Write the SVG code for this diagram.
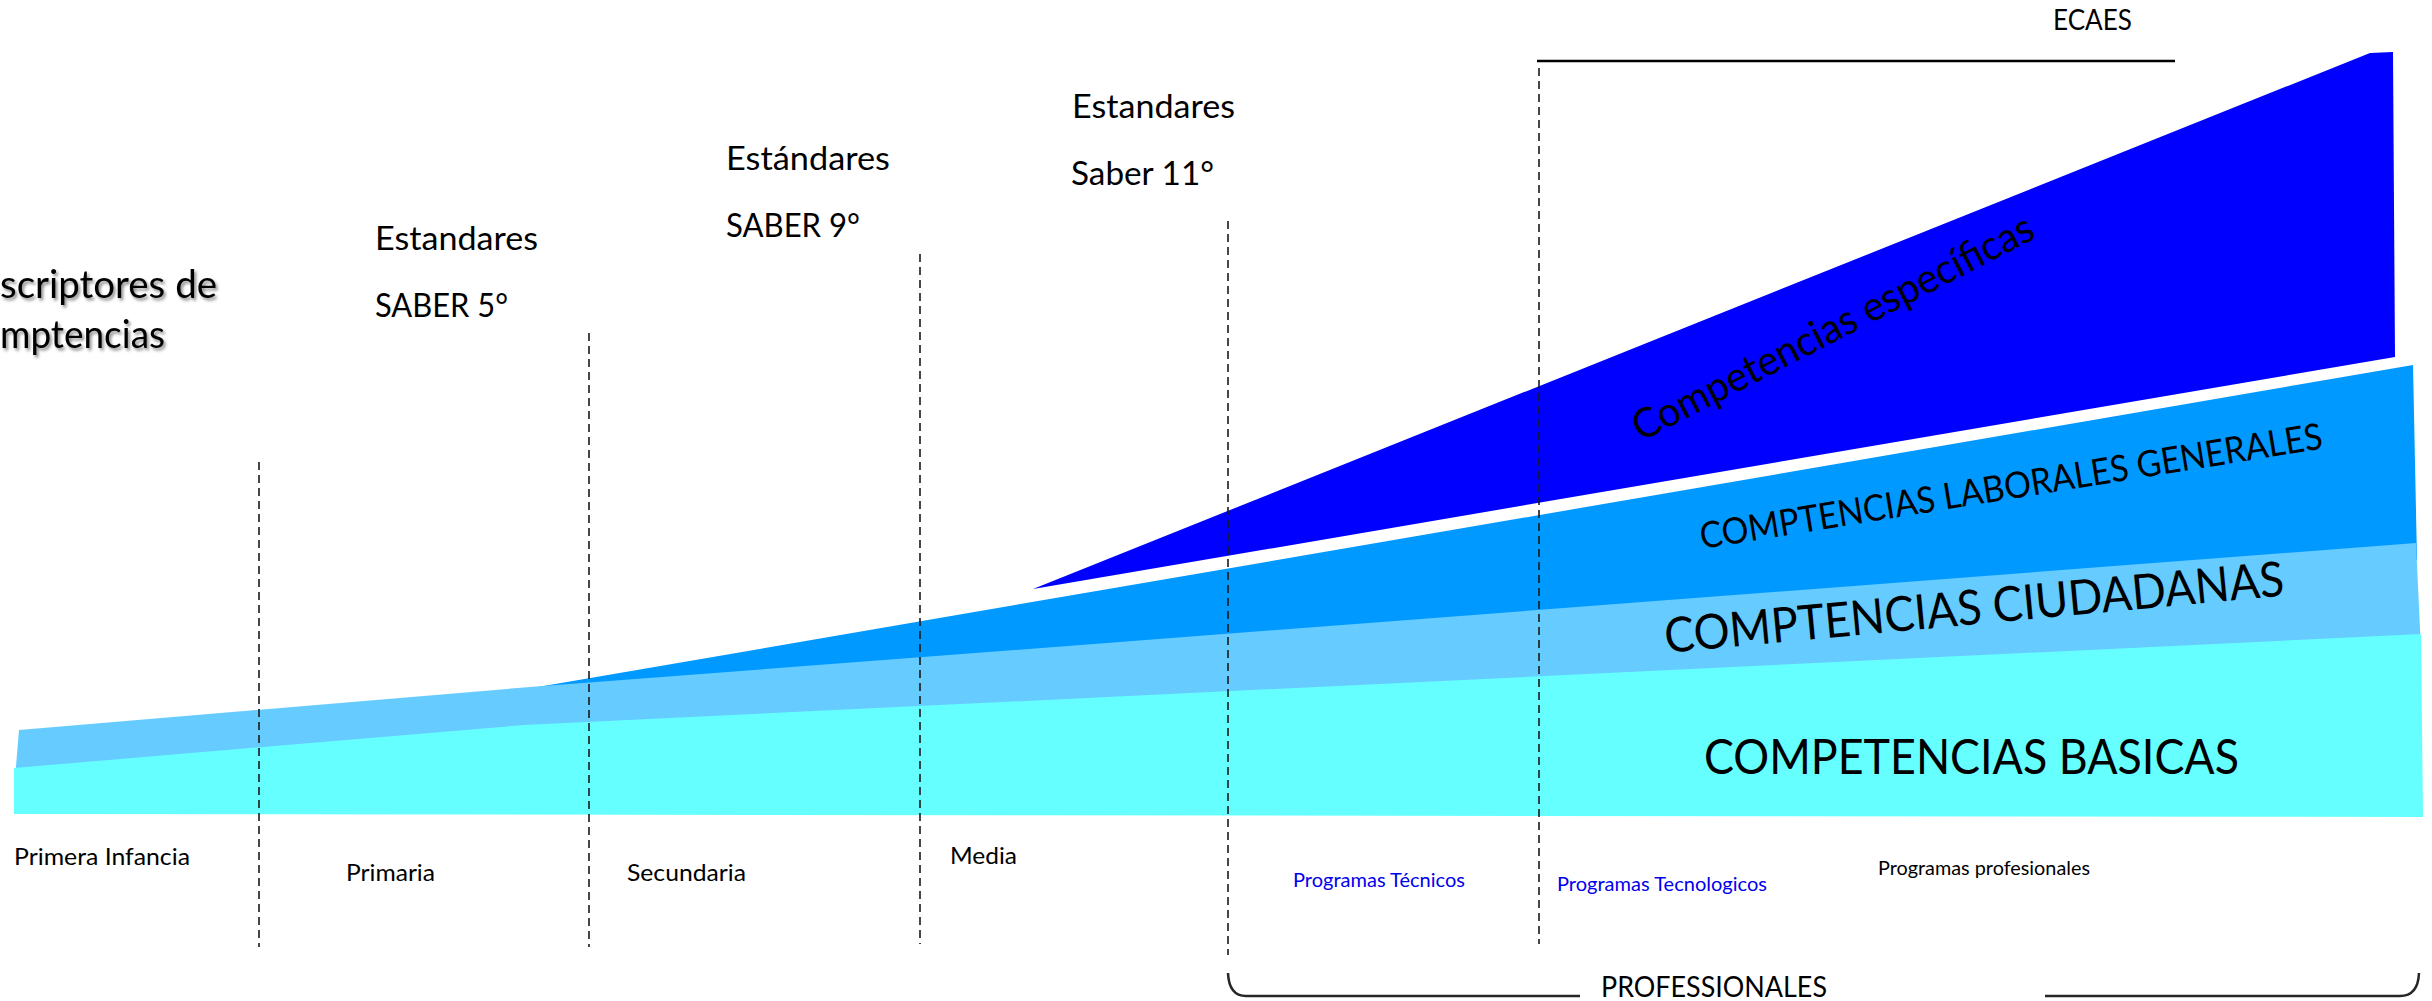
<svg xmlns="http://www.w3.org/2000/svg" width="2432" height="1001" viewBox="0 0 2432 1001">
<defs>
<filter id="shadow" x="-10%" y="-30%" width="130%" height="170%">
<feDropShadow dx="2" dy="2.5" stdDeviation="1.5" flood-color="#000" flood-opacity="0.45"/>
</filter>
<style>
text{font-family:Lato,"Open Sans","Liberation Sans",sans-serif;fill:#000}
.std{font-size:33px}
.lvl{font-size:23.4px}
.prog{font-size:19px}
.blue{fill:#0000EE}
.dash{stroke:#1a1a1a;stroke-width:1.6;stroke-dasharray:8 5;fill:none}
.brk{stroke:#262626;stroke-width:2.5;fill:none}
</style>
</defs>
<rect width="2432" height="1001" fill="#fff"/>
<g id="bands">
<polygon id="especificas" fill="#0000FF" points="1033,589 2370,53 2393,52 2395,357"/>
<polygon id="laborales" fill="#0099FF" points="526,689 2413,365 2417,560 526,700"/>
<polygon id="ciudadanas" fill="#66CCFF" points="19,730 530,687 2416,543 2421,650 14,790"/>
<polygon id="basicas" fill="#66FFFF" points="14,768 524,725 2421,634 2423,817 14,814"/>
</g>
<g id="connectors">
<line class="dash" x1="259" y1="462" x2="259" y2="947"/>
<line class="dash" x1="589" y1="333" x2="589" y2="947"/>
<line class="dash" x1="920" y1="254" x2="920" y2="944"/>
<line class="dash" x1="1228" y1="221" x2="1228" y2="955"/>
<line class="dash" x1="1539" y1="68" x2="1539" y2="944"/>
<line x1="1537" y1="61" x2="2175" y2="61" stroke="#000" stroke-width="2.5"/>
<path class="brk" d="M1228,973 Q1229,996 1246,996 L1580,996"/>
<path class="brk" d="M2045,996 L2400,996 Q2418,996 2419,973"/>
</g>
<g id="label-descriptores" filter="url(#shadow)">
<text x="0" y="298" font-size="39" textLength="217" lengthAdjust="spacingAndGlyphs">scriptores de</text>
<text x="0" y="348" font-size="39" textLength="165" lengthAdjust="spacingAndGlyphs">mptencias</text>
</g>
<g id="label-saber5">
<text class="std" x="375" y="250" textLength="163" lengthAdjust="spacingAndGlyphs">Estandares</text>
<text class="std" x="375" y="317" textLength="133" lengthAdjust="spacingAndGlyphs">SABER 5°</text>
</g>
<g id="label-saber9">
<text class="std" x="726" y="170" textLength="164" lengthAdjust="spacingAndGlyphs">Estándares</text>
<text class="std" x="726" y="237" textLength="134" lengthAdjust="spacingAndGlyphs">SABER 9°</text>
</g>
<g id="label-saber11">
<text class="std" x="1072" y="118" textLength="163" lengthAdjust="spacingAndGlyphs">Estandares</text>
<text class="std" x="1071" y="185" textLength="143" lengthAdjust="spacingAndGlyphs">Saber 11°</text>
</g>
<g id="label-ecaes">
<text x="2053" y="30" font-size="28" textLength="79" lengthAdjust="spacingAndGlyphs">ECAES</text>
</g>
<g id="label-bands">
<text transform="translate(1641,442) rotate(-27.3)" font-size="41" textLength="446" lengthAdjust="spacingAndGlyphs">Competencias específicas</text>
<text transform="translate(1702,549) rotate(-9.2)" font-size="36.5" textLength="630" lengthAdjust="spacingAndGlyphs">COMPTENCIAS LABORALES GENERALES</text>
<text transform="translate(1666,653) rotate(-5.3)" font-size="48.5" textLength="622" lengthAdjust="spacingAndGlyphs">COMPTENCIAS CIUDADANAS</text>
<text x="1704" y="774" font-size="48" textLength="535" lengthAdjust="spacingAndGlyphs">COMPETENCIAS BASICAS</text>
</g>
<g id="label-levels">
<text class="lvl" x="14" y="865" textLength="176" lengthAdjust="spacingAndGlyphs">Primera Infancia</text>
<text class="lvl" x="346" y="881" textLength="89" lengthAdjust="spacingAndGlyphs">Primaria</text>
<text class="lvl" x="627" y="881" textLength="119" lengthAdjust="spacingAndGlyphs">Secundaria</text>
<text class="lvl" x="950" y="864" textLength="67" lengthAdjust="spacingAndGlyphs">Media</text>
</g>
<g id="label-programas">
<text class="prog blue" x="1293" y="887" textLength="172" lengthAdjust="spacingAndGlyphs">Programas Técnicos</text>
<text class="prog blue" x="1557" y="891" textLength="210" lengthAdjust="spacingAndGlyphs">Programas Tecnologicos</text>
<text class="prog" x="1878" y="875" textLength="212" lengthAdjust="spacingAndGlyphs">Programas profesionales</text>
</g>
<g id="label-professionales">
<text x="1601" y="997" font-size="28.8" textLength="226" lengthAdjust="spacingAndGlyphs">PROFESSIONALES</text>
</g>
</svg>
